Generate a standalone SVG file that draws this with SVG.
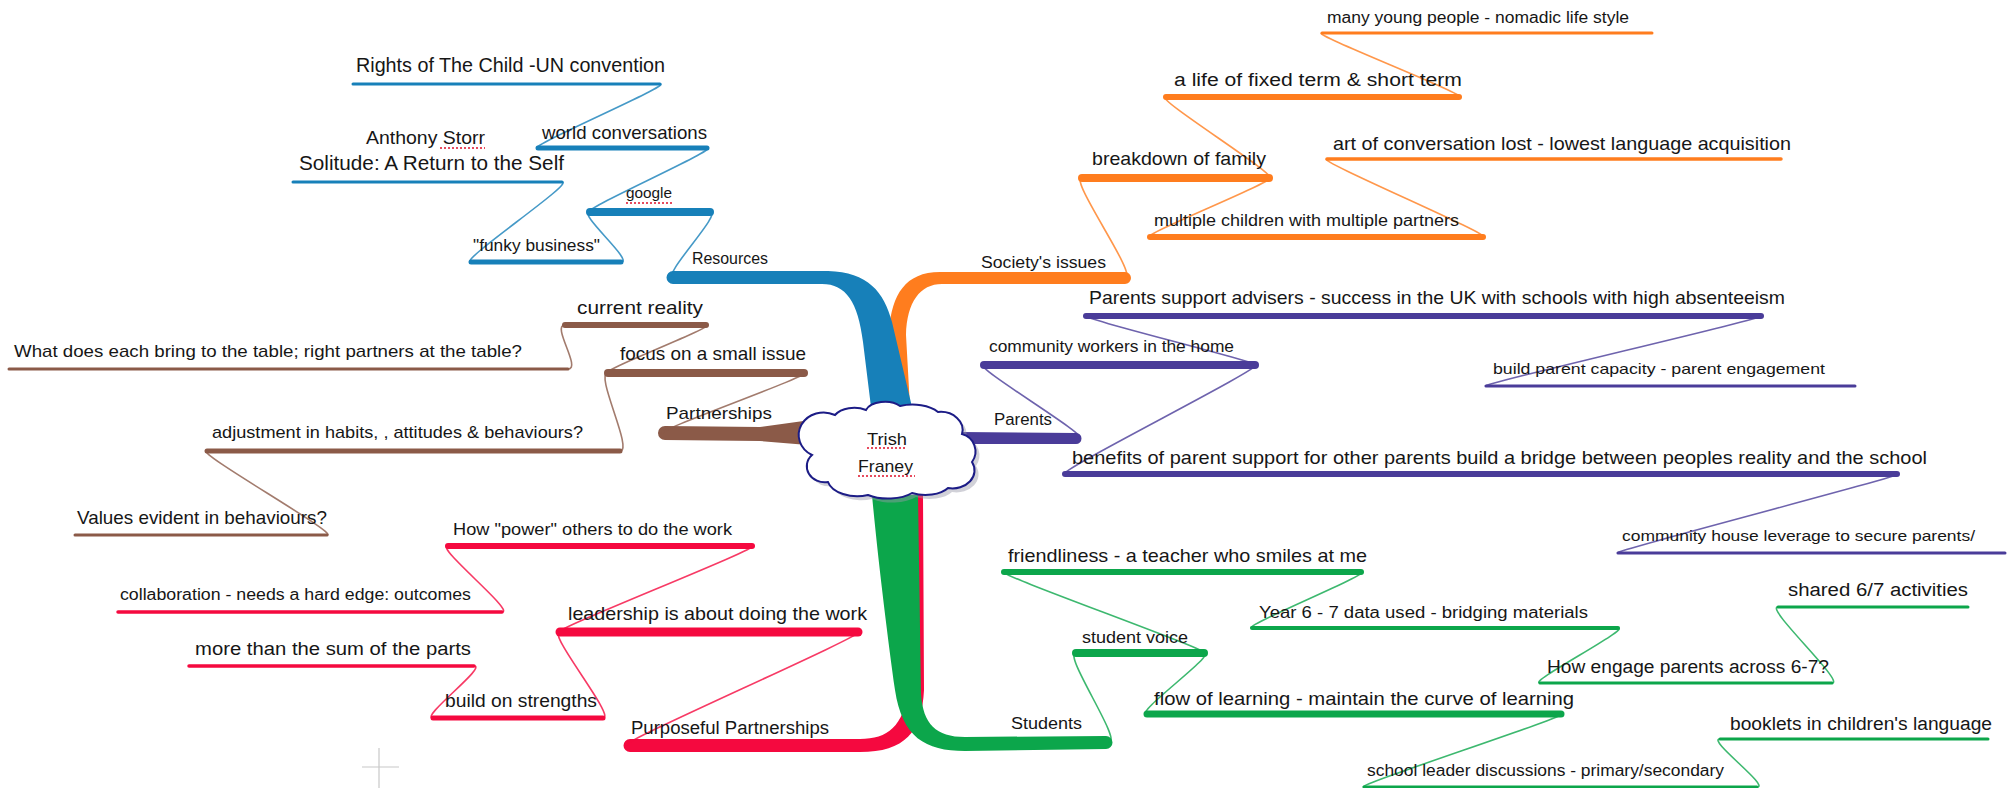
<svg xmlns="http://www.w3.org/2000/svg" width="2014" height="788" viewBox="0 0 2014 788">
<style>
text{font-family:"Liberation Sans",Arial,sans-serif;fill:#161616;}
.ul{fill:none;stroke-linecap:round;}
.cn{fill:none;stroke-width:1.6;stroke-linecap:round;opacity:.8;}
.B{stroke:#1780b9;} .O{stroke:#ff7d1e;} .N{stroke:#8b5a48;} .P{stroke:#4a3c99;} .G{stroke:#0ca64b;} .R{stroke:#f5093f;}
.sp{stroke:#e0102a;stroke-width:1.6;stroke-dasharray:2 2;fill:none;}
</style>
<rect width="2014" height="788" fill="#ffffff"/>

<!-- main branches -->
<g id="main-branches">
  <path fill="#f5093f" d="M923,495 L924,690 C922,732 905,752 860,752 L630,752 A6,6 0 0 1 630,739 L860,739 C888,739 903,726 909,690 L914,495 Z"/>
  <path fill="#ff7d1e" d="M1125,272 L940,272 C905,272 892,295 889,330 L892,407 L910,407 L906,335 C907,302 920,284 942,284 L1125,284 A6,6 0 0 0 1125,272 Z"/>
  <path fill="#1780b9" d="M673,271 L828,271 C868,272 884,292 892,322 L912,407 L871,407 L863,342 C858,302 846,284 822,284 L673,284 A6.5,6.5 0 0 1 673,271 Z"/>
  <path fill="#0ca64b" d="M872,495 C878,560 888,640 895,690 C902,737 925,751 965,751 L1106,749 A6,6 0 0 0 1106,736 L965,737 C936,737 923,724 921,694 L918,495 Z"/>
  <path fill="#8b5a48" d="M665,426 L760,427 L818,419 L820,446 L760,441 L665,440 A7,7 0 0 1 665,426 Z"/>
  <path fill="#4a3c99" d="M960,432 L1076,433 A5,5 0 0 1 1076,444 L960,444 Z"/>
</g>

<!-- connectors -->
<g id="connectors">
  <path class="cn B" d="M660,84 C674,84 524,148 538,148"/>
  <path class="cn B" d="M707,148 C721,148 576,212 590,212"/>
  <path class="cn B" d="M562,182 C576,182 457,262 471,262"/>
  <path class="cn B" d="M590,212 C576,212 635,262 621,262"/>
  <path class="cn B" d="M710,212 C724,212 660,277 674,277"/>

  <path class="cn N" d="M663,433 C649,433 818,373 804,373"/>
  <path class="cn N" d="M608,373 C594,373 720,325 706,325"/>
  <path class="cn N" d="M565,325 C551,325 582,369 568,369"/>
  <path class="cn N" d="M608,373 C594,373 634,451 620,451"/>
  <path class="cn N" d="M207,451 C193,451 341,535 327,535"/>

  <path class="cn R" d="M627,745 C613,745 872,632 858,632"/>
  <path class="cn R" d="M603,718 C617,718 546,632 560,632"/>
  <path class="cn R" d="M433,718 C419,718 488,666 474,666"/>
  <path class="cn R" d="M560,632 C546,632 766,546 752,546"/>
  <path class="cn R" d="M448,546 C434,546 516,612 502,612"/>

  <path class="cn O" d="M1125,277 C1139,277 1068,178 1082,178"/>
  <path class="cn O" d="M1269,178 C1283,178 1136,237 1150,237"/>
  <path class="cn O" d="M1166,97 C1152,97 1283,178 1269,178"/>
  <path class="cn O" d="M1459,97 C1473,97 1308,33 1322,33"/>
  <path class="cn O" d="M1327,159 C1313,159 1497,237 1483,237"/>

  <path class="cn P" d="M1079,438 C1093,438 970,365 984,365"/>
  <path class="cn P" d="M1255,365 C1269,365 1072,316 1086,316"/>
  <path class="cn P" d="M1486,386 C1472,386 1775,316 1761,316"/>
  <path class="cn P" d="M1065,474 C1051,474 1269,365 1255,365"/>
  <path class="cn P" d="M1897,474 C1911,474 1604,553 1618,553"/>

  <path class="cn G" d="M1109,742 C1123,742 1062,653 1076,653"/>
  <path class="cn G" d="M1204,653 C1218,653 990,572 1004,572"/>
  <path class="cn G" d="M1361,572 C1375,572 1238,628 1252,628"/>
  <path class="cn G" d="M1618,628 C1632,628 1526,683 1540,683"/>
  <path class="cn G" d="M1832,683 C1846,683 1764,607 1778,607"/>
  <path class="cn G" d="M1204,653 C1218,653 1133,714 1147,714"/>
  <path class="cn G" d="M1561,714 C1575,714 1350,787 1364,787"/>
  <path class="cn G" d="M1757,787 C1771,787 1706,739 1720,739"/>
</g>

<!-- central node -->
<g id="center">
  <path fill="#9a9aa8" opacity=".45" transform="translate(4,4)" d="M812,455 A22,20 0 0 1 835,415 A22,14 0 0 1 866,410 A20,12 0 0 1 900,406 A30,16 0 0 1 938,412 A22,18 0 0 1 962,434 A18,18 0 0 1 972,462 A22,18 0 0 1 948,488 A26,14 0 0 1 912,493 A30,14 0 0 1 868,495 A30,18 0 0 1 828,482 A18,16 0 0 1 812,455 Z"/>
  <path fill="#ffffff" stroke="#1c1c86" stroke-width="2" d="M812,455 A22,20 0 0 1 835,415 A22,14 0 0 1 866,410 A20,12 0 0 1 900,406 A30,16 0 0 1 938,412 A22,18 0 0 1 962,434 A18,18 0 0 1 972,462 A22,18 0 0 1 948,488 A26,14 0 0 1 912,493 A30,14 0 0 1 868,495 A30,18 0 0 1 828,482 A18,16 0 0 1 812,455 Z"/>
  <text x="867" y="445" font-size="17" textLength="40" lengthAdjust="spacingAndGlyphs">Trish</text>
  <path class="sp" d="M867,448 L907,448"/>
  <text x="858" y="472" font-size="17" textLength="55" lengthAdjust="spacingAndGlyphs">Franey</text>
  <path class="sp" d="M858,476 L915,476"/>
</g>

<!-- Resources branch -->
<g id="resources"><text x="692" y="264" font-size="16" textLength="76" lengthAdjust="spacingAndGlyphs">Resources</text></g>
<g id="google"><text x="626" y="198" font-size="15" textLength="46" lengthAdjust="spacingAndGlyphs">google</text><path class="sp" d="M626,203 L672,203"/><line class="ul B" x1="590" y1="212" x2="710" y2="212" stroke-width="8"/></g>
<g id="world-conversations"><text x="542" y="139" font-size="19" textLength="165" lengthAdjust="spacingAndGlyphs">world conversations</text><line class="ul B" x1="538" y1="148" x2="707" y2="148" stroke-width="5"/></g>
<g id="rights"><text x="356" y="72" font-size="20" textLength="309" lengthAdjust="spacingAndGlyphs">Rights of The Child -UN convention</text><line class="ul B" x1="353" y1="84" x2="660" y2="84" stroke-width="3"/></g>
<g id="funky"><text x="473" y="251" font-size="17" textLength="127" lengthAdjust="spacingAndGlyphs">"funky business"</text><line class="ul B" x1="471" y1="262" x2="621" y2="262" stroke-width="5"/></g>
<g id="solitude"><text x="366" y="144" font-size="19" textLength="119" lengthAdjust="spacingAndGlyphs">Anthony Storr</text><path class="sp" d="M440,148 L485,148"/><text x="299" y="170" font-size="20" textLength="265" lengthAdjust="spacingAndGlyphs">Solitude: A Return to the Self</text><line class="ul B" x1="293" y1="182" x2="562" y2="182" stroke-width="3"/></g>

<!-- Partnerships branch -->
<g id="partnerships"><text x="666" y="419" font-size="17" textLength="106" lengthAdjust="spacingAndGlyphs">Partnerships</text></g>
<g id="focus"><text x="620" y="360" font-size="19" textLength="186" lengthAdjust="spacingAndGlyphs">focus on a small issue</text><line class="ul N" x1="608" y1="373" x2="804" y2="373" stroke-width="8"/></g>
<g id="current-reality"><text x="577" y="314" font-size="19" textLength="126" lengthAdjust="spacingAndGlyphs">current reality</text><line class="ul N" x1="565" y1="325" x2="706" y2="325" stroke-width="6"/></g>
<g id="what-does"><text x="14" y="357" font-size="17" textLength="508" lengthAdjust="spacingAndGlyphs">What does each bring to the table; right partners at the table?</text><line class="ul N" x1="9" y1="369" x2="568" y2="369" stroke-width="3"/></g>
<g id="adjustment"><text x="212" y="438" font-size="17" textLength="371" lengthAdjust="spacingAndGlyphs">adjustment in habits, , attitudes &amp; behaviours?</text><line class="ul N" x1="207" y1="451" x2="620" y2="451" stroke-width="5"/></g>
<g id="values"><text x="77" y="524" font-size="19" textLength="250" lengthAdjust="spacingAndGlyphs">Values evident in behaviours?</text><line class="ul N" x1="75" y1="535" x2="327" y2="535" stroke-width="3"/></g>

<!-- Purposeful Partnerships branch -->
<g id="purposeful"><text x="631" y="734" font-size="18" textLength="198" lengthAdjust="spacingAndGlyphs">Purposeful Partnerships</text></g>
<g id="leadership"><text x="568" y="620" font-size="19" textLength="299" lengthAdjust="spacingAndGlyphs">leadership is about doing the work</text><line class="ul R" x1="560" y1="632" x2="858" y2="632" stroke-width="9"/></g>
<g id="how-power"><text x="453" y="535" font-size="17" textLength="279" lengthAdjust="spacingAndGlyphs">How "power" others to do the work</text><line class="ul R" x1="448" y1="546" x2="752" y2="546" stroke-width="6"/></g>
<g id="collaboration"><text x="120" y="600" font-size="16" textLength="351" lengthAdjust="spacingAndGlyphs">collaboration - needs a hard edge: outcomes</text><line class="ul R" x1="118" y1="612" x2="502" y2="612" stroke-width="3.5"/></g>
<g id="build-strengths"><text x="445" y="707" font-size="18" textLength="152" lengthAdjust="spacingAndGlyphs">build on strengths</text><line class="ul R" x1="433" y1="718" x2="603" y2="718" stroke-width="5"/></g>
<g id="more-than"><text x="195" y="655" font-size="18" textLength="276" lengthAdjust="spacingAndGlyphs">more than the sum of the parts</text><line class="ul R" x1="189" y1="666" x2="474" y2="666" stroke-width="3.5"/></g>

<!-- Society's issues branch -->
<g id="society"><text x="981" y="268" font-size="16" textLength="125" lengthAdjust="spacingAndGlyphs">Society's issues</text></g>
<g id="breakdown"><text x="1092" y="165" font-size="19" textLength="174" lengthAdjust="spacingAndGlyphs">breakdown of family</text><line class="ul O" x1="1082" y1="178" x2="1269" y2="178" stroke-width="8"/></g>
<g id="multiple"><text x="1154" y="226" font-size="16" textLength="305" lengthAdjust="spacingAndGlyphs">multiple children with multiple partners</text><line class="ul O" x1="1150" y1="237" x2="1483" y2="237" stroke-width="6"/></g>
<g id="life"><text x="1174" y="86" font-size="18" textLength="288" lengthAdjust="spacingAndGlyphs">a life of fixed term &amp; short term</text><line class="ul O" x1="1166" y1="97" x2="1459" y2="97" stroke-width="6"/></g>
<g id="nomadic"><text x="1327" y="23" font-size="16" textLength="302" lengthAdjust="spacingAndGlyphs">many young people - nomadic life style</text><line class="ul O" x1="1322" y1="33" x2="1652" y2="33" stroke-width="3"/></g>
<g id="art"><text x="1333" y="150" font-size="19" textLength="458" lengthAdjust="spacingAndGlyphs">art of conversation lost - lowest language acquisition</text><line class="ul O" x1="1327" y1="159" x2="1781" y2="159" stroke-width="3.5"/></g>

<!-- Parents branch -->
<g id="parents"><text x="994" y="425" font-size="16" textLength="58" lengthAdjust="spacingAndGlyphs">Parents</text></g>
<g id="community-workers"><text x="989" y="352" font-size="16" textLength="245" lengthAdjust="spacingAndGlyphs">community workers in the home</text><line class="ul P" x1="984" y1="365" x2="1255" y2="365" stroke-width="8"/></g>
<g id="advisers"><text x="1089" y="304" font-size="19" textLength="696" lengthAdjust="spacingAndGlyphs">Parents support advisers - success in the UK with schools with high absenteeism</text><line class="ul P" x1="1086" y1="316" x2="1761" y2="316" stroke-width="6"/></g>
<g id="capacity"><text x="1493" y="374" font-size="15" textLength="332" lengthAdjust="spacingAndGlyphs">build parent capacity - parent engagement</text><line class="ul P" x1="1486" y1="386" x2="1855" y2="386" stroke-width="3"/></g>
<g id="benefits"><text x="1072" y="464" font-size="19" textLength="855" lengthAdjust="spacingAndGlyphs">benefits of parent support for other parents build a bridge between peoples reality and the school</text><line class="ul P" x1="1065" y1="474" x2="1897" y2="474" stroke-width="6"/></g>
<g id="community-house"><text x="1622" y="541" font-size="15" textLength="353" lengthAdjust="spacingAndGlyphs">community house leverage to secure parents/</text><line class="ul P" x1="1618" y1="553" x2="2005" y2="553" stroke-width="3"/></g>

<!-- Students branch -->
<g id="students"><text x="1011" y="729" font-size="16" textLength="71" lengthAdjust="spacingAndGlyphs">Students</text></g>
<g id="student-voice"><text x="1082" y="643" font-size="16" textLength="106" lengthAdjust="spacingAndGlyphs">student voice</text><line class="ul G" x1="1076" y1="653" x2="1204" y2="653" stroke-width="8"/></g>
<g id="friendliness"><text x="1008" y="562" font-size="19" textLength="359" lengthAdjust="spacingAndGlyphs">friendliness - a teacher who smiles at me</text><line class="ul G" x1="1004" y1="572" x2="1361" y2="572" stroke-width="6"/></g>
<g id="year-data"><text x="1259" y="618" font-size="16" textLength="329" lengthAdjust="spacingAndGlyphs">Year 6 - 7 data used - bridging materials</text><line class="ul G" x1="1252" y1="628" x2="1618" y2="628" stroke-width="4"/></g>
<g id="engage"><text x="1547" y="673" font-size="18" textLength="282" lengthAdjust="spacingAndGlyphs">How engage parents across 6-7?</text><line class="ul G" x1="1540" y1="683" x2="1832" y2="683" stroke-width="3"/></g>
<g id="shared"><text x="1788" y="596" font-size="18" textLength="180" lengthAdjust="spacingAndGlyphs">shared 6/7 activities</text><line class="ul G" x1="1778" y1="607" x2="1968" y2="607" stroke-width="3"/></g>
<g id="flow"><text x="1154" y="705" font-size="19" textLength="420" lengthAdjust="spacingAndGlyphs">flow of learning - maintain the curve of learning</text><line class="ul G" x1="1147" y1="714" x2="1561" y2="714" stroke-width="7"/></g>
<g id="school-leader"><text x="1367" y="776" font-size="16" textLength="357" lengthAdjust="spacingAndGlyphs">school leader discussions - primary/secondary</text><line class="ul G" x1="1364" y1="787" x2="1757" y2="787" stroke-width="3"/></g>
<g id="booklets"><text x="1730" y="730" font-size="18" textLength="262" lengthAdjust="spacingAndGlyphs">booklets in children's language</text><line class="ul G" x1="1720" y1="739" x2="1988" y2="739" stroke-width="3"/></g>

<g id="cursor-cross" stroke="#c8c8c8" stroke-width="1.2">
  <line x1="379" y1="748" x2="379" y2="788"/>
  <line x1="362" y1="767" x2="399" y2="767"/>
</g>
</svg>
